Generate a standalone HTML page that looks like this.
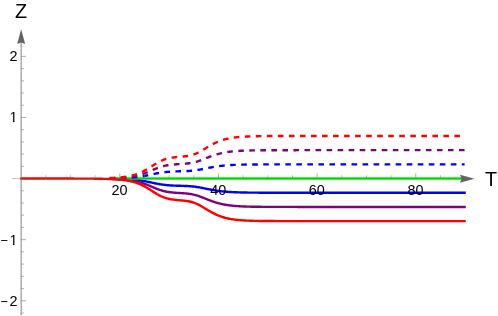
<!DOCTYPE html>
<html><head><meta charset="utf-8"><title>Plot</title><style>html,body{margin:0;padding:0;background:#fff}body{width:498px;height:316px;overflow:hidden}</style></head><body><svg width="498" height="316" viewBox="0 0 498 316" style="display:block;will-change:transform">
<rect width="100%" height="100%" fill="#fff"/>
<line x1="12" y1="178.55" x2="461" y2="178.55" stroke="#888" stroke-opacity="0.62" stroke-width="0.85"/>
<clipPath id="c"><rect x="109.5" y="0" width="400" height="316"/></clipPath>
<g clip-path="url(#c)">
<path d="M20.16 178.55 L21.15 178.55 L22.14 178.55 L23.13 178.55 L24.12 178.55 L25.11 178.55 L26.10 178.55 L27.09 178.55 L28.09 178.55 L29.08 178.55 L30.07 178.55 L31.06 178.55 L32.05 178.55 L33.04 178.55 L34.03 178.55 L35.02 178.55 L36.01 178.55 L37.00 178.55 L37.99 178.55 L38.98 178.55 L39.97 178.55 L40.96 178.55 L41.95 178.55 L42.94 178.55 L43.93 178.55 L44.92 178.55 L45.91 178.55 L46.90 178.55 L47.89 178.55 L48.88 178.55 L49.87 178.55 L50.86 178.55 L51.85 178.55 L52.84 178.55 L53.83 178.55 L54.82 178.55 L55.81 178.55 L56.80 178.55 L57.79 178.55 L58.78 178.55 L59.77 178.55 L60.76 178.55 L61.75 178.55 L62.74 178.55 L63.73 178.55 L64.72 178.55 L65.71 178.55 L66.70 178.55 L67.69 178.55 L68.68 178.56 L69.67 178.56 L70.66 178.56 L71.65 178.56 L72.64 178.56 L73.64 178.56 L74.63 178.56 L75.62 178.56 L76.61 178.56 L77.60 178.56 L78.59 178.56 L79.58 178.56 L80.57 178.56 L81.56 178.57 L82.55 178.57 L83.54 178.57 L84.53 178.57 L85.52 178.57 L86.51 178.57 L87.50 178.57 L88.49 178.58 L89.48 178.58 L90.47 178.58 L91.46 178.58 L92.45 178.59 L93.44 178.59 L94.43 178.59 L95.42 178.60 L96.41 178.60 L97.40 178.61 L98.39 178.61 L99.38 178.62 L100.37 178.62 L101.36 178.63 L102.35 178.64 L103.34 178.64 L104.33 178.65 L105.32 178.66 L106.31 178.67 L107.30 178.68 L108.29 178.69 L109.28 178.70 L110.27 178.72 L111.26 178.73 L112.25 178.75 L113.24 178.76 L114.23 178.78 L115.22 178.80 L116.21 178.82 L117.20 178.85 L118.19 178.87 L119.19 178.90 L120.18 178.93 L121.17 178.96 L122.16 179.00 L123.15 179.04 L124.14 179.08 L125.13 179.12 L126.12 179.17 L127.11 179.23 L128.10 179.28 L129.09 179.35 L130.08 179.41 L131.07 179.48 L132.06 179.56 L133.05 179.65 L134.04 179.74 L135.03 179.83 L136.02 179.94 L137.01 180.05 L138.00 180.17 L138.99 180.30 L139.98 180.43 L140.97 180.58 L141.96 180.73 L142.95 180.89 L143.94 181.06 L144.93 181.24 L145.92 181.43 L146.91 181.62 L147.90 181.82 L148.89 182.02 L149.88 182.23 L150.87 182.44 L151.86 182.65 L152.85 182.86 L153.84 183.08 L154.83 183.28 L155.82 183.49 L156.81 183.68 L157.80 183.87 L158.79 184.05 L159.78 184.22 L160.77 184.38 L161.76 184.53 L162.75 184.67 L163.74 184.80 L164.74 184.92 L165.73 185.03 L166.72 185.13 L167.71 185.22 L168.70 185.30 L169.69 185.37 L170.68 185.43 L171.67 185.49 L172.66 185.54 L173.65 185.59 L174.64 185.63 L175.63 185.67 L176.62 185.70 L177.61 185.73 L178.60 185.76 L179.59 185.79 L180.58 185.82 L181.57 185.84 L182.56 185.87 L183.55 185.91 L184.54 185.94 L185.53 185.98 L186.52 186.02 L187.51 186.07 L188.50 186.13 L189.49 186.20 L190.48 186.27 L191.47 186.36 L192.46 186.45 L193.45 186.56 L194.44 186.68 L195.43 186.81 L196.42 186.95 L197.41 187.10 L198.40 187.26 L199.39 187.43 L200.38 187.60 L201.37 187.79 L202.36 187.98 L203.35 188.17 L204.34 188.37 L205.33 188.57 L206.32 188.77 L207.31 188.97 L208.30 189.17 L209.29 189.36 L210.29 189.55 L211.28 189.74 L212.27 189.92 L213.26 190.09 L214.25 190.26 L215.24 190.42 L216.23 190.57 L217.22 190.72 L218.21 190.86 L219.20 190.99 L220.19 191.11 L221.18 191.23 L222.17 191.34 L223.16 191.44 L224.15 191.54 L225.14 191.63 L226.13 191.71 L227.12 191.79 L228.11 191.87 L229.10 191.93 L230.09 192.00 L231.08 192.06 L232.07 192.11 L233.06 192.16 L234.05 192.21 L235.04 192.25 L236.03 192.29 L237.02 192.32 L238.01 192.36 L239.00 192.39 L239.99 192.42 L240.98 192.44 L241.97 192.47 L242.96 192.49 L243.95 192.51 L244.94 192.53 L245.93 192.55 L246.92 192.56 L247.91 192.58 L248.90 192.59 L249.89 192.60 L250.88 192.61 L251.87 192.62 L252.86 192.63 L253.85 192.64 L254.84 192.65 L255.84 192.66 L256.83 192.67 L257.82 192.67 L258.81 192.68 L259.80 192.68 L260.79 192.69 L261.78 192.69 L262.77 192.70 L263.76 192.70 L264.75 192.70 L265.74 192.71 L266.73 192.71 L267.72 192.71 L268.71 192.71 L269.70 192.72 L270.69 192.72 L271.68 192.72 L272.67 192.72 L273.66 192.72 L274.65 192.72 L275.64 192.73 L276.63 192.73 L277.62 192.73 L278.61 192.73 L279.60 192.73 L280.59 192.73 L281.58 192.73 L282.57 192.73 L283.56 192.73 L284.55 192.73 L285.54 192.73 L286.53 192.73 L287.52 192.73 L288.51 192.74 L289.50 192.74 L290.49 192.74 L291.48 192.74 L292.47 192.74 L293.46 192.74 L294.45 192.74 L295.44 192.74 L296.43 192.74 L297.42 192.74 L298.41 192.74 L299.40 192.74 L300.39 192.74 L301.39 192.74 L302.38 192.74 L303.37 192.74 L304.36 192.74 L305.35 192.74 L306.34 192.74 L307.33 192.74 L308.32 192.74 L309.31 192.74 L310.30 192.74 L311.29 192.74 L312.28 192.74 L313.27 192.74 L314.26 192.74 L315.25 192.74 L316.24 192.74 L317.23 192.74 L318.22 192.74 L319.21 192.74 L320.20 192.74 L321.19 192.74 L322.18 192.74 L323.17 192.74 L324.16 192.74 L325.15 192.74 L326.14 192.74 L327.13 192.74 L328.12 192.74 L329.11 192.74 L330.10 192.74 L331.09 192.74 L332.08 192.74 L333.07 192.74 L334.06 192.74 L335.05 192.74 L336.04 192.74 L337.03 192.74 L338.02 192.74 L339.01 192.74 L340.00 192.74 L340.99 192.74 L341.98 192.74 L342.97 192.74 L343.96 192.74 L344.95 192.74 L345.94 192.74 L346.94 192.74 L347.93 192.74 L348.92 192.74 L349.91 192.74 L350.90 192.74 L351.89 192.74 L352.88 192.74 L353.87 192.74 L354.86 192.74 L355.85 192.74 L356.84 192.74 L357.83 192.74 L358.82 192.74 L359.81 192.74 L360.80 192.74 L361.79 192.74 L362.78 192.74 L363.77 192.74 L364.76 192.74 L365.75 192.74 L366.74 192.74 L367.73 192.74 L368.72 192.74 L369.71 192.74 L370.70 192.74 L371.69 192.74 L372.68 192.74 L373.67 192.74 L374.66 192.74 L375.65 192.74 L376.64 192.74 L377.63 192.74 L378.62 192.74 L379.61 192.74 L380.60 192.74 L381.59 192.74 L382.58 192.74 L383.57 192.74 L384.56 192.74 L385.55 192.74 L386.54 192.74 L387.53 192.74 L388.52 192.74 L389.51 192.74 L390.50 192.74 L391.49 192.74 L392.49 192.74 L393.48 192.74 L394.47 192.74 L395.46 192.74 L396.45 192.74 L397.44 192.74 L398.43 192.74 L399.42 192.74 L400.41 192.74 L401.40 192.74 L402.39 192.74 L403.38 192.74 L404.37 192.74 L405.36 192.74 L406.35 192.74 L407.34 192.74 L408.33 192.74 L409.32 192.74 L410.31 192.74 L411.30 192.74 L412.29 192.74 L413.28 192.74 L414.27 192.74 L415.26 192.74 L416.25 192.74 L417.24 192.74 L418.23 192.74 L419.22 192.74 L420.21 192.74 L421.20 192.74 L422.19 192.74 L423.18 192.74 L424.17 192.74 L425.16 192.74 L426.15 192.74 L427.14 192.74 L428.13 192.74 L429.12 192.74 L430.11 192.74 L431.10 192.74 L432.09 192.74 L433.08 192.74 L434.07 192.74 L435.06 192.74 L436.05 192.74 L437.04 192.74 L438.04 192.74 L439.03 192.74 L440.02 192.74 L441.01 192.74 L442.00 192.74 L442.99 192.74 L443.98 192.74 L444.97 192.74 L445.96 192.74 L446.95 192.74 L447.94 192.74 L448.93 192.74 L449.92 192.74 L450.91 192.74 L451.90 192.74 L452.89 192.74 L453.88 192.74 L454.87 192.74 L455.86 192.74 L456.85 192.74 L457.84 192.74 L458.83 192.74 L459.82 192.74 L460.81 192.74 L461.80 192.74 L462.79 192.74 L463.78 192.74 L464.77 192.74 L465.76 192.74" fill="none" stroke="#0000ff" stroke-width="2.40" stroke-linejoin="round"/>
<path d="M20.16 178.55 L21.15 178.55 L22.14 178.55 L23.13 178.55 L24.12 178.55 L25.11 178.55 L26.10 178.55 L27.09 178.55 L28.09 178.55 L29.08 178.55 L30.07 178.55 L31.06 178.55 L32.05 178.55 L33.04 178.55 L34.03 178.55 L35.02 178.55 L36.01 178.55 L37.00 178.55 L37.99 178.55 L38.98 178.55 L39.97 178.55 L40.96 178.55 L41.95 178.55 L42.94 178.55 L43.93 178.55 L44.92 178.55 L45.91 178.55 L46.90 178.55 L47.89 178.55 L48.88 178.55 L49.87 178.55 L50.86 178.55 L51.85 178.55 L52.84 178.55 L53.83 178.55 L54.82 178.55 L55.81 178.55 L56.80 178.55 L57.79 178.55 L58.78 178.55 L59.77 178.55 L60.76 178.56 L61.75 178.56 L62.74 178.56 L63.73 178.56 L64.72 178.56 L65.71 178.56 L66.70 178.56 L67.69 178.56 L68.68 178.56 L69.67 178.56 L70.66 178.56 L71.65 178.56 L72.64 178.56 L73.64 178.57 L74.63 178.57 L75.62 178.57 L76.61 178.57 L77.60 178.57 L78.59 178.57 L79.58 178.58 L80.57 178.58 L81.56 178.58 L82.55 178.58 L83.54 178.59 L84.53 178.59 L85.52 178.59 L86.51 178.60 L87.50 178.60 L88.49 178.60 L89.48 178.61 L90.47 178.61 L91.46 178.62 L92.45 178.63 L93.44 178.63 L94.43 178.64 L95.42 178.65 L96.41 178.66 L97.40 178.66 L98.39 178.67 L99.38 178.68 L100.37 178.70 L101.36 178.71 L102.35 178.72 L103.34 178.74 L104.33 178.75 L105.32 178.77 L106.31 178.79 L107.30 178.81 L108.29 178.83 L109.28 178.86 L110.27 178.88 L111.26 178.91 L112.25 178.94 L113.24 178.98 L114.23 179.02 L115.22 179.06 L116.21 179.10 L117.20 179.15 L118.19 179.20 L119.19 179.25 L120.18 179.31 L121.17 179.38 L122.16 179.45 L123.15 179.53 L124.14 179.61 L125.13 179.70 L126.12 179.80 L127.11 179.90 L128.10 180.02 L129.09 180.14 L130.08 180.28 L131.07 180.42 L132.06 180.58 L133.05 180.74 L134.04 180.92 L135.03 181.12 L136.02 181.33 L137.01 181.55 L138.00 181.79 L138.99 182.05 L139.98 182.32 L140.97 182.61 L141.96 182.91 L142.95 183.24 L143.94 183.58 L144.93 183.93 L145.92 184.30 L146.91 184.69 L147.90 185.08 L148.89 185.49 L149.88 185.91 L150.87 186.33 L151.86 186.75 L152.85 187.18 L153.84 187.60 L154.83 188.02 L155.82 188.42 L156.81 188.81 L157.80 189.19 L158.79 189.55 L159.78 189.90 L160.77 190.22 L161.76 190.52 L162.75 190.80 L163.74 191.06 L164.74 191.29 L165.73 191.51 L166.72 191.71 L167.71 191.88 L168.70 192.04 L169.69 192.19 L170.68 192.31 L171.67 192.43 L172.66 192.53 L173.65 192.62 L174.64 192.71 L175.63 192.78 L176.62 192.85 L177.61 192.91 L178.60 192.97 L179.59 193.03 L180.58 193.08 L181.57 193.14 L182.56 193.20 L183.55 193.26 L184.54 193.33 L185.53 193.41 L186.52 193.50 L187.51 193.60 L188.50 193.71 L189.49 193.84 L190.48 194.00 L191.47 194.16 L192.46 194.36 L193.45 194.57 L194.44 194.80 L195.43 195.06 L196.42 195.34 L197.41 195.64 L198.40 195.96 L199.39 196.30 L200.38 196.66 L201.37 197.03 L202.36 197.41 L203.35 197.80 L204.34 198.19 L205.33 198.59 L206.32 198.99 L207.31 199.39 L208.30 199.79 L209.29 200.17 L210.29 200.56 L211.28 200.93 L212.27 201.29 L213.26 201.64 L214.25 201.97 L215.24 202.29 L216.23 202.60 L217.22 202.89 L218.21 203.17 L219.20 203.43 L220.19 203.68 L221.18 203.91 L222.17 204.13 L223.16 204.34 L224.15 204.53 L225.14 204.71 L226.13 204.88 L227.12 205.04 L228.11 205.18 L229.10 205.32 L230.09 205.44 L231.08 205.56 L232.07 205.67 L233.06 205.77 L234.05 205.86 L235.04 205.95 L236.03 206.03 L237.02 206.10 L238.01 206.17 L239.00 206.23 L239.99 206.29 L240.98 206.34 L241.97 206.39 L242.96 206.43 L243.95 206.47 L244.94 206.51 L245.93 206.54 L246.92 206.58 L247.91 206.60 L248.90 206.63 L249.89 206.66 L250.88 206.68 L251.87 206.70 L252.86 206.72 L253.85 206.74 L254.84 206.75 L255.84 206.77 L256.83 206.78 L257.82 206.79 L258.81 206.80 L259.80 206.81 L260.79 206.82 L261.78 206.83 L262.77 206.84 L263.76 206.85 L264.75 206.86 L265.74 206.86 L266.73 206.87 L267.72 206.87 L268.71 206.88 L269.70 206.88 L270.69 206.89 L271.68 206.89 L272.67 206.89 L273.66 206.90 L274.65 206.90 L275.64 206.90 L276.63 206.90 L277.62 206.91 L278.61 206.91 L279.60 206.91 L280.59 206.91 L281.58 206.91 L282.57 206.91 L283.56 206.92 L284.55 206.92 L285.54 206.92 L286.53 206.92 L287.52 206.92 L288.51 206.92 L289.50 206.92 L290.49 206.92 L291.48 206.92 L292.47 206.92 L293.46 206.92 L294.45 206.92 L295.44 206.92 L296.43 206.92 L297.42 206.93 L298.41 206.93 L299.40 206.93 L300.39 206.93 L301.39 206.93 L302.38 206.93 L303.37 206.93 L304.36 206.93 L305.35 206.93 L306.34 206.93 L307.33 206.93 L308.32 206.93 L309.31 206.93 L310.30 206.93 L311.29 206.93 L312.28 206.93 L313.27 206.93 L314.26 206.93 L315.25 206.93 L316.24 206.93 L317.23 206.93 L318.22 206.93 L319.21 206.93 L320.20 206.93 L321.19 206.93 L322.18 206.93 L323.17 206.93 L324.16 206.93 L325.15 206.93 L326.14 206.93 L327.13 206.93 L328.12 206.93 L329.11 206.93 L330.10 206.93 L331.09 206.93 L332.08 206.93 L333.07 206.93 L334.06 206.93 L335.05 206.93 L336.04 206.93 L337.03 206.93 L338.02 206.93 L339.01 206.93 L340.00 206.93 L340.99 206.93 L341.98 206.93 L342.97 206.93 L343.96 206.93 L344.95 206.93 L345.94 206.93 L346.94 206.93 L347.93 206.93 L348.92 206.93 L349.91 206.93 L350.90 206.93 L351.89 206.93 L352.88 206.93 L353.87 206.93 L354.86 206.93 L355.85 206.93 L356.84 206.93 L357.83 206.93 L358.82 206.93 L359.81 206.93 L360.80 206.93 L361.79 206.93 L362.78 206.93 L363.77 206.93 L364.76 206.93 L365.75 206.93 L366.74 206.93 L367.73 206.93 L368.72 206.93 L369.71 206.93 L370.70 206.93 L371.69 206.93 L372.68 206.93 L373.67 206.93 L374.66 206.93 L375.65 206.93 L376.64 206.93 L377.63 206.93 L378.62 206.93 L379.61 206.93 L380.60 206.93 L381.59 206.93 L382.58 206.93 L383.57 206.93 L384.56 206.93 L385.55 206.93 L386.54 206.93 L387.53 206.93 L388.52 206.93 L389.51 206.93 L390.50 206.93 L391.49 206.93 L392.49 206.93 L393.48 206.93 L394.47 206.93 L395.46 206.93 L396.45 206.93 L397.44 206.93 L398.43 206.93 L399.42 206.93 L400.41 206.93 L401.40 206.93 L402.39 206.93 L403.38 206.93 L404.37 206.93 L405.36 206.93 L406.35 206.93 L407.34 206.93 L408.33 206.93 L409.32 206.93 L410.31 206.93 L411.30 206.93 L412.29 206.93 L413.28 206.93 L414.27 206.93 L415.26 206.93 L416.25 206.93 L417.24 206.93 L418.23 206.93 L419.22 206.93 L420.21 206.93 L421.20 206.93 L422.19 206.93 L423.18 206.93 L424.17 206.93 L425.16 206.93 L426.15 206.93 L427.14 206.93 L428.13 206.93 L429.12 206.93 L430.11 206.93 L431.10 206.93 L432.09 206.93 L433.08 206.93 L434.07 206.93 L435.06 206.93 L436.05 206.93 L437.04 206.93 L438.04 206.93 L439.03 206.93 L440.02 206.93 L441.01 206.93 L442.00 206.93 L442.99 206.93 L443.98 206.93 L444.97 206.93 L445.96 206.93 L446.95 206.93 L447.94 206.93 L448.93 206.93 L449.92 206.93 L450.91 206.93 L451.90 206.93 L452.89 206.93 L453.88 206.93 L454.87 206.93 L455.86 206.93 L456.85 206.93 L457.84 206.93 L458.83 206.93 L459.82 206.93 L460.81 206.93 L461.80 206.93 L462.79 206.93 L463.78 206.93 L464.77 206.93 L465.76 206.93" fill="none" stroke="#800080" stroke-width="2.40" stroke-linejoin="round"/>
<path d="M20.16 178.55 L21.15 178.55 L22.14 178.55 L23.13 178.55 L24.12 178.55 L25.11 178.55 L26.10 178.55 L27.09 178.55 L28.09 178.55 L29.08 178.55 L30.07 178.55 L31.06 178.55 L32.05 178.55 L33.04 178.55 L34.03 178.55 L35.02 178.55 L36.01 178.55 L37.00 178.55 L37.99 178.55 L38.98 178.55 L39.97 178.55 L40.96 178.55 L41.95 178.55 L42.94 178.55 L43.93 178.55 L44.92 178.55 L45.91 178.55 L46.90 178.55 L47.89 178.55 L48.88 178.55 L49.87 178.55 L50.86 178.55 L51.85 178.55 L52.84 178.55 L53.83 178.55 L54.82 178.55 L55.81 178.55 L56.80 178.55 L57.79 178.55 L58.78 178.55 L59.77 178.55 L60.76 178.55 L61.75 178.55 L62.74 178.55 L63.73 178.55 L64.72 178.55 L65.71 178.55 L66.70 178.55 L67.69 178.55 L68.68 178.55 L69.67 178.55 L70.66 178.55 L71.65 178.55 L72.64 178.55 L73.64 178.55 L74.63 178.55 L75.62 178.55 L76.61 178.55 L77.60 178.55 L78.59 178.55 L79.58 178.55 L80.57 178.55 L81.56 178.55 L82.55 178.55 L83.54 178.55 L84.53 178.55 L85.52 178.55 L86.51 178.55 L87.50 178.55 L88.49 178.55 L89.48 178.55 L90.47 178.55 L91.46 178.55 L92.45 178.55 L93.44 178.55 L94.43 178.55 L95.42 178.55 L96.41 178.55 L97.40 178.55 L98.39 178.55 L99.38 178.55 L100.37 178.55 L101.36 178.55 L102.35 178.55 L103.34 178.55 L104.33 178.55 L105.32 178.55 L106.31 178.55 L107.30 178.55 L108.29 178.55 L109.28 178.55 L110.27 178.55 L111.26 178.55 L112.25 178.55 L113.24 178.55 L114.23 178.55 L115.22 178.55 L116.21 178.55 L117.20 178.55 L118.19 178.55 L119.19 178.55 L120.18 178.55 L121.17 178.55 L122.16 178.55 L123.15 178.55 L124.14 178.55 L125.13 178.55 L126.12 178.55 L127.11 178.55 L128.10 178.55 L129.09 178.55 L130.08 178.55 L131.07 178.55 L132.06 178.55 L133.05 178.55 L134.04 178.55 L135.03 178.55 L136.02 178.55 L137.01 178.55 L138.00 178.55 L138.99 178.55 L139.98 178.55 L140.97 178.55 L141.96 178.55 L142.95 178.55 L143.94 178.55 L144.93 178.55 L145.92 178.55 L146.91 178.55 L147.90 178.55 L148.89 178.55 L149.88 178.55 L150.87 178.55 L151.86 178.55 L152.85 178.55 L153.84 178.55 L154.83 178.55 L155.82 178.55 L156.81 178.55 L157.80 178.55 L158.79 178.55 L159.78 178.55 L160.77 178.55 L161.76 178.55 L162.75 178.55 L163.74 178.55 L164.74 178.55 L165.73 178.55 L166.72 178.55 L167.71 178.55 L168.70 178.55 L169.69 178.55 L170.68 178.55 L171.67 178.55 L172.66 178.55 L173.65 178.55 L174.64 178.55 L175.63 178.55 L176.62 178.55 L177.61 178.55 L178.60 178.55 L179.59 178.55 L180.58 178.55 L181.57 178.55 L182.56 178.55 L183.55 178.55 L184.54 178.55 L185.53 178.55 L186.52 178.55 L187.51 178.55 L188.50 178.55 L189.49 178.55 L190.48 178.55 L191.47 178.55 L192.46 178.55 L193.45 178.55 L194.44 178.55 L195.43 178.55 L196.42 178.55 L197.41 178.55 L198.40 178.55 L199.39 178.55 L200.38 178.55 L201.37 178.55 L202.36 178.55 L203.35 178.55 L204.34 178.55 L205.33 178.55 L206.32 178.55 L207.31 178.55 L208.30 178.55 L209.29 178.55 L210.29 178.55 L211.28 178.55 L212.27 178.55 L213.26 178.55 L214.25 178.55 L215.24 178.55 L216.23 178.55 L217.22 178.55 L218.21 178.55 L219.20 178.55 L220.19 178.55 L221.18 178.55 L222.17 178.55 L223.16 178.55 L224.15 178.55 L225.14 178.55 L226.13 178.55 L227.12 178.55 L228.11 178.55 L229.10 178.55 L230.09 178.55 L231.08 178.55 L232.07 178.55 L233.06 178.55 L234.05 178.55 L235.04 178.55 L236.03 178.55 L237.02 178.55 L238.01 178.55 L239.00 178.55 L239.99 178.55 L240.98 178.55 L241.97 178.55 L242.96 178.55 L243.95 178.55 L244.94 178.55 L245.93 178.55 L246.92 178.55 L247.91 178.55 L248.90 178.55 L249.89 178.55 L250.88 178.55 L251.87 178.55 L252.86 178.55 L253.85 178.55 L254.84 178.55 L255.84 178.55 L256.83 178.55 L257.82 178.55 L258.81 178.55 L259.80 178.55 L260.79 178.55 L261.78 178.55 L262.77 178.55 L263.76 178.55 L264.75 178.55 L265.74 178.55 L266.73 178.55 L267.72 178.55 L268.71 178.55 L269.70 178.55 L270.69 178.55 L271.68 178.55 L272.67 178.55 L273.66 178.55 L274.65 178.55 L275.64 178.55 L276.63 178.55 L277.62 178.55 L278.61 178.55 L279.60 178.55 L280.59 178.55 L281.58 178.55 L282.57 178.55 L283.56 178.55 L284.55 178.55 L285.54 178.55 L286.53 178.55 L287.52 178.55 L288.51 178.55 L289.50 178.55 L290.49 178.55 L291.48 178.55 L292.47 178.55 L293.46 178.55 L294.45 178.55 L295.44 178.55 L296.43 178.55 L297.42 178.55 L298.41 178.55 L299.40 178.55 L300.39 178.55 L301.39 178.55 L302.38 178.55 L303.37 178.55 L304.36 178.55 L305.35 178.55 L306.34 178.55 L307.33 178.55 L308.32 178.55 L309.31 178.55 L310.30 178.55 L311.29 178.55 L312.28 178.55 L313.27 178.55 L314.26 178.55 L315.25 178.55 L316.24 178.55 L317.23 178.55 L318.22 178.55 L319.21 178.55 L320.20 178.55 L321.19 178.55 L322.18 178.55 L323.17 178.55 L324.16 178.55 L325.15 178.55 L326.14 178.55 L327.13 178.55 L328.12 178.55 L329.11 178.55 L330.10 178.55 L331.09 178.55 L332.08 178.55 L333.07 178.55 L334.06 178.55 L335.05 178.55 L336.04 178.55 L337.03 178.55 L338.02 178.55 L339.01 178.55 L340.00 178.55 L340.99 178.55 L341.98 178.55 L342.97 178.55 L343.96 178.55 L344.95 178.55 L345.94 178.55 L346.94 178.55 L347.93 178.55 L348.92 178.55 L349.91 178.55 L350.90 178.55 L351.89 178.55 L352.88 178.55 L353.87 178.55 L354.86 178.55 L355.85 178.55 L356.84 178.55 L357.83 178.55 L358.82 178.55 L359.81 178.55 L360.80 178.55 L361.79 178.55 L362.78 178.55 L363.77 178.55 L364.76 178.55 L365.75 178.55 L366.74 178.55 L367.73 178.55 L368.72 178.55 L369.71 178.55 L370.70 178.55 L371.69 178.55 L372.68 178.55 L373.67 178.55 L374.66 178.55 L375.65 178.55 L376.64 178.55 L377.63 178.55 L378.62 178.55 L379.61 178.55 L380.60 178.55 L381.59 178.55 L382.58 178.55 L383.57 178.55 L384.56 178.55 L385.55 178.55 L386.54 178.55 L387.53 178.55 L388.52 178.55 L389.51 178.55 L390.50 178.55 L391.49 178.55 L392.49 178.55 L393.48 178.55 L394.47 178.55 L395.46 178.55 L396.45 178.55 L397.44 178.55 L398.43 178.55 L399.42 178.55 L400.41 178.55 L401.40 178.55 L402.39 178.55 L403.38 178.55 L404.37 178.55 L405.36 178.55 L406.35 178.55 L407.34 178.55 L408.33 178.55 L409.32 178.55 L410.31 178.55 L411.30 178.55 L412.29 178.55 L413.28 178.55 L414.27 178.55 L415.26 178.55 L416.25 178.55 L417.24 178.55 L418.23 178.55 L419.22 178.55 L420.21 178.55 L421.20 178.55 L422.19 178.55 L423.18 178.55 L424.17 178.55 L425.16 178.55 L426.15 178.55 L427.14 178.55 L428.13 178.55 L429.12 178.55 L430.11 178.55 L431.10 178.55 L432.09 178.55 L433.08 178.55 L434.07 178.55 L435.06 178.55 L436.05 178.55 L437.04 178.55 L438.04 178.55 L439.03 178.55 L440.02 178.55 L441.01 178.55 L442.00 178.55 L442.99 178.55 L443.98 178.55 L444.97 178.55 L445.96 178.55 L446.95 178.55 L447.94 178.55 L448.93 178.55 L449.92 178.55 L450.91 178.55 L451.90 178.55 L452.89 178.55 L453.88 178.55 L454.87 178.55 L455.86 178.55 L456.85 178.55 L457.84 178.55 L458.83 178.55 L459.82 178.55 L460.81 178.55 L461.80 178.55 L462.79 178.55 L463.78 178.55 L464.77 178.55 L465.76 178.55" fill="none" stroke="#00f000" stroke-width="2.40" stroke-linejoin="round"/>
<path d="M20.16 178.55 L21.15 178.55 L22.14 178.55 L23.13 178.55 L24.11 178.55 L25.10 178.55 L26.09 178.55 L27.08 178.55 L28.06 178.55 L29.05 178.55 L30.04 178.55 L31.03 178.55 L32.02 178.55 L33.00 178.55 L33.99 178.55 L34.98 178.55 L35.97 178.55 L36.95 178.55 L37.94 178.55 L38.93 178.55 L39.92 178.55 L40.91 178.55 L41.89 178.55 L42.88 178.55 L43.87 178.55 L44.86 178.55 L45.84 178.55 L46.83 178.55 L47.82 178.55 L48.81 178.55 L49.79 178.55 L50.78 178.55 L51.77 178.55 L52.76 178.55 L53.75 178.55 L54.73 178.55 L55.72 178.55 L56.71 178.55 L57.70 178.55 L58.68 178.55 L59.67 178.55 L60.66 178.55 L61.65 178.55 L62.63 178.55 L63.62 178.55 L64.61 178.55 L65.60 178.55 L66.59 178.55 L67.57 178.55 L68.56 178.54 L69.55 178.54 L70.54 178.54 L71.52 178.54 L72.51 178.54 L73.50 178.54 L74.49 178.54 L75.47 178.54 L76.46 178.54 L77.45 178.54 L78.44 178.54 L79.43 178.54 L80.41 178.54 L81.40 178.54 L82.39 178.53 L83.38 178.53 L84.36 178.53 L85.35 178.53 L86.34 178.53 L87.33 178.53 L88.31 178.52 L89.30 178.52 L90.29 178.52 L91.28 178.52 L92.27 178.51 L93.25 178.51 L94.24 178.51 L95.23 178.50 L96.22 178.50 L97.20 178.49 L98.19 178.49 L99.18 178.48 L100.17 178.48 L101.15 178.47 L102.14 178.47 L103.13 178.46 L104.12 178.45 L105.11 178.44 L106.09 178.43 L107.08 178.42 L108.07 178.41 L109.06 178.40 L110.04 178.39 L111.03 178.37 L112.02 178.36 L113.01 178.34 L113.99 178.32 L114.98 178.30 L115.97 178.28 L116.96 178.26 L117.95 178.23 L118.93 178.21 L119.92 178.18 L120.91 178.14 L121.90 178.11 L122.88 178.07 L123.87 178.03 L124.86 177.99 L125.85 177.94 L126.83 177.89 L127.82 177.83 L128.81 177.77 L129.80 177.71 L130.79 177.64 L131.77 177.56 L132.76 177.48 L133.75 177.39 L134.74 177.30 L135.72 177.19 L136.71 177.08 L137.70 176.97 L138.69 176.84 L139.67 176.71 L140.66 176.57 L141.65 176.42 L142.64 176.26 L143.63 176.09 L144.61 175.92 L145.60 175.73 L146.59 175.55 L147.58 175.35 L148.56 175.15 L149.55 174.94 L150.54 174.73 L151.53 174.52 L152.51 174.31 L153.50 174.10 L154.49 173.89 L155.48 173.68 L156.47 173.49 L157.45 173.29 L158.44 173.11 L159.43 172.94 L160.42 172.77 L161.40 172.62 L162.39 172.48 L163.38 172.34 L164.37 172.22 L165.35 172.11 L166.34 172.01 L167.33 171.92 L168.32 171.83 L169.31 171.76 L170.29 171.69 L171.28 171.63 L172.27 171.58 L173.26 171.53 L174.24 171.49 L175.23 171.45 L176.22 171.41 L177.21 171.38 L178.19 171.35 L179.18 171.32 L180.17 171.30 L181.16 171.27 L182.15 171.24 L183.13 171.21 L184.12 171.18 L185.11 171.14 L186.10 171.10 L187.08 171.05 L188.07 170.99 L189.06 170.93 L190.05 170.86 L191.03 170.78 L192.02 170.69 L193.01 170.59 L194.00 170.48 L194.99 170.35 L195.97 170.22 L196.96 170.07 L197.95 169.92 L198.94 169.75 L199.92 169.58 L200.91 169.40 L201.90 169.21 L202.89 169.02 L203.87 168.82 L204.86 168.62 L205.85 168.43 L206.84 168.23 L207.83 168.03 L208.81 167.83 L209.80 167.64 L210.79 167.45 L211.78 167.27 L212.76 167.09 L213.75 166.92 L214.74 166.76 L215.73 166.60 L216.71 166.45 L217.70 166.31 L218.69 166.18 L219.68 166.05 L220.67 165.93 L221.65 165.82 L222.64 165.71 L223.63 165.61 L224.62 165.52 L225.60 165.43 L226.59 165.35 L227.58 165.27 L228.57 165.20 L229.55 165.14 L230.54 165.08 L231.53 165.02 L232.52 164.97 L233.51 164.92 L234.49 164.87 L235.48 164.83 L236.47 164.80 L237.46 164.76 L238.44 164.73 L239.43 164.70 L240.42 164.67 L241.41 164.65 L242.40 164.62 L243.38 164.60 L244.37 164.58 L245.36 164.56 L246.35 164.55 L247.33 164.53 L248.32 164.52 L249.31 164.50 L250.30 164.49 L251.28 164.48 L252.27 164.47 L253.26 164.46 L254.25 164.45 L255.24 164.45 L256.22 164.44 L257.21 164.43 L258.20 164.43 L259.19 164.42 L260.17 164.42 L261.16 164.41 L262.15 164.41 L263.14 164.40 L264.12 164.40 L265.11 164.40 L266.10 164.39 L267.09 164.39 L268.08 164.39 L269.06 164.39 L270.05 164.38 L271.04 164.38 L272.03 164.38 L273.01 164.38 L274.00 164.38 L274.99 164.38 L275.98 164.37 L276.96 164.37 L277.95 164.37 L278.94 164.37 L279.93 164.37 L280.92 164.37 L281.90 164.37 L282.89 164.37 L283.88 164.37 L284.87 164.37 L285.85 164.37 L286.84 164.37 L287.83 164.37 L288.82 164.36 L289.80 164.36 L290.79 164.36 L291.78 164.36 L292.77 164.36 L293.76 164.36 L294.74 164.36 L295.73 164.36 L296.72 164.36 L297.71 164.36 L298.69 164.36 L299.68 164.36 L300.67 164.36 L301.66 164.36 L302.64 164.36 L303.63 164.36 L304.62 164.36 L305.61 164.36 L306.60 164.36 L307.58 164.36 L308.57 164.36 L309.56 164.36 L310.55 164.36 L311.53 164.36 L312.52 164.36 L313.51 164.36 L314.50 164.36 L315.48 164.36 L316.47 164.36 L317.46 164.36 L318.45 164.36 L319.44 164.36 L320.42 164.36 L321.41 164.36 L322.40 164.36 L323.39 164.36 L324.37 164.36 L325.36 164.36 L326.35 164.36 L327.34 164.36 L328.32 164.36 L329.31 164.36 L330.30 164.36 L331.29 164.36 L332.28 164.36 L333.26 164.36 L334.25 164.36 L335.24 164.36 L336.23 164.36 L337.21 164.36 L338.20 164.36 L339.19 164.36 L340.18 164.36 L341.16 164.36 L342.15 164.36 L343.14 164.36 L344.13 164.36 L345.12 164.36 L346.10 164.36 L347.09 164.36 L348.08 164.36 L349.07 164.36 L350.05 164.36 L351.04 164.36 L352.03 164.36 L353.02 164.36 L354.00 164.36 L354.99 164.36 L355.98 164.36 L356.97 164.36 L357.96 164.36 L358.94 164.36 L359.93 164.36 L360.92 164.36 L361.91 164.36 L362.89 164.36 L363.88 164.36 L364.87 164.36 L365.86 164.36 L366.84 164.36 L367.83 164.36 L368.82 164.36 L369.81 164.36 L370.80 164.36 L371.78 164.36 L372.77 164.36 L373.76 164.36 L374.75 164.36 L375.73 164.36 L376.72 164.36 L377.71 164.36 L378.70 164.36 L379.68 164.36 L380.67 164.36 L381.66 164.36 L382.65 164.36 L383.64 164.36 L384.62 164.36 L385.61 164.36 L386.60 164.36 L387.59 164.36 L388.57 164.36 L389.56 164.36 L390.55 164.36 L391.54 164.36 L392.52 164.36 L393.51 164.36 L394.50 164.36 L395.49 164.36 L396.48 164.36 L397.46 164.36 L398.45 164.36 L399.44 164.36 L400.43 164.36 L401.41 164.36 L402.40 164.36 L403.39 164.36 L404.38 164.36 L405.36 164.36 L406.35 164.36 L407.34 164.36 L408.33 164.36 L409.32 164.36 L410.30 164.36 L411.29 164.36 L412.28 164.36 L413.27 164.36 L414.25 164.36 L415.24 164.36 L416.23 164.36 L417.22 164.36 L418.20 164.36 L419.19 164.36 L420.18 164.36 L421.17 164.36 L422.16 164.36 L423.14 164.36 L424.13 164.36 L425.12 164.36 L426.11 164.36 L427.09 164.36 L428.08 164.36 L429.07 164.36 L430.06 164.36 L431.05 164.36 L432.03 164.36 L433.02 164.36 L434.01 164.36 L435.00 164.36 L435.98 164.36 L436.97 164.36 L437.96 164.36 L438.95 164.36 L439.93 164.36 L440.92 164.36 L441.91 164.36 L442.90 164.36 L443.89 164.36 L444.87 164.36 L445.86 164.36 L446.85 164.36 L447.84 164.36 L448.82 164.36 L449.81 164.36 L450.80 164.36 L451.79 164.36 L452.77 164.36 L453.76 164.36 L454.75 164.36 L455.74 164.36 L456.73 164.36 L457.71 164.36 L458.70 164.36 L459.69 164.36 L460.68 164.36 L461.66 164.36 L462.65 164.36 L463.64 164.36 L464.63 164.36" fill="none" stroke="#0000ff" stroke-width="2.40" stroke-dasharray="5.6 5.435" stroke-dashoffset="-1.29"/>
<path d="M20.16 178.55 L21.15 178.55 L22.14 178.55 L23.13 178.55 L24.11 178.55 L25.10 178.55 L26.09 178.55 L27.08 178.55 L28.06 178.55 L29.05 178.55 L30.04 178.55 L31.03 178.55 L32.02 178.55 L33.00 178.55 L33.99 178.55 L34.98 178.55 L35.97 178.55 L36.95 178.55 L37.94 178.55 L38.93 178.55 L39.92 178.55 L40.91 178.55 L41.89 178.55 L42.88 178.55 L43.87 178.55 L44.86 178.55 L45.84 178.55 L46.83 178.55 L47.82 178.55 L48.81 178.55 L49.79 178.55 L50.78 178.55 L51.77 178.55 L52.76 178.55 L53.75 178.55 L54.73 178.55 L55.72 178.55 L56.71 178.55 L57.70 178.55 L58.68 178.55 L59.67 178.55 L60.66 178.54 L61.65 178.54 L62.63 178.54 L63.62 178.54 L64.61 178.54 L65.60 178.54 L66.59 178.54 L67.57 178.54 L68.56 178.54 L69.55 178.54 L70.54 178.54 L71.52 178.54 L72.51 178.54 L73.50 178.53 L74.49 178.53 L75.47 178.53 L76.46 178.53 L77.45 178.53 L78.44 178.53 L79.43 178.52 L80.41 178.52 L81.40 178.52 L82.39 178.52 L83.38 178.51 L84.36 178.51 L85.35 178.51 L86.34 178.50 L87.33 178.50 L88.31 178.50 L89.30 178.49 L90.29 178.49 L91.28 178.48 L92.27 178.48 L93.25 178.47 L94.24 178.46 L95.23 178.45 L96.22 178.45 L97.20 178.44 L98.19 178.43 L99.18 178.42 L100.17 178.41 L101.15 178.39 L102.14 178.38 L103.13 178.37 L104.12 178.35 L105.11 178.33 L106.09 178.31 L107.08 178.29 L108.07 178.27 L109.06 178.25 L110.04 178.22 L111.03 178.19 L112.02 178.16 L113.01 178.13 L113.99 178.09 L114.98 178.05 L115.97 178.01 L116.96 177.97 L117.95 177.92 L118.93 177.86 L119.92 177.80 L120.91 177.74 L121.90 177.67 L122.88 177.59 L123.87 177.51 L124.86 177.43 L125.85 177.33 L126.83 177.23 L127.82 177.11 L128.81 176.99 L129.80 176.86 L130.79 176.72 L131.77 176.57 L132.76 176.41 L133.75 176.23 L134.74 176.04 L135.72 175.84 L136.71 175.62 L137.70 175.38 L138.69 175.13 L139.67 174.87 L140.66 174.59 L141.65 174.29 L142.64 173.97 L143.63 173.63 L144.61 173.29 L145.60 172.92 L146.59 172.54 L147.58 172.15 L148.56 171.74 L149.55 171.33 L150.54 170.91 L151.53 170.49 L152.51 170.07 L153.50 169.64 L154.49 169.23 L155.48 168.82 L156.47 168.42 L157.45 168.04 L158.44 167.67 L159.43 167.32 L160.42 167.00 L161.40 166.69 L162.39 166.40 L163.38 166.14 L164.37 165.89 L165.35 165.67 L166.34 165.47 L167.33 165.28 L168.32 165.12 L169.31 164.97 L170.29 164.83 L171.28 164.71 L172.27 164.61 L173.26 164.51 L174.24 164.43 L175.23 164.35 L176.22 164.28 L177.21 164.21 L178.19 164.15 L179.18 164.10 L180.17 164.04 L181.16 163.99 L182.15 163.93 L183.13 163.87 L184.12 163.80 L185.11 163.73 L186.10 163.64 L187.08 163.55 L188.07 163.44 L189.06 163.31 L190.05 163.17 L191.03 163.01 L192.02 162.83 L193.01 162.63 L194.00 162.40 L194.99 162.16 L195.97 161.89 L196.96 161.60 L197.95 161.29 L198.94 160.96 L199.92 160.61 L200.91 160.25 L201.90 159.87 L202.89 159.49 L203.87 159.10 L204.86 158.70 L205.85 158.30 L206.84 157.90 L207.83 157.51 L208.81 157.11 L209.80 156.73 L210.79 156.35 L211.78 155.99 L212.76 155.64 L213.75 155.30 L214.74 154.97 L215.73 154.65 L216.71 154.36 L217.70 154.07 L218.69 153.80 L219.68 153.55 L220.67 153.31 L221.65 153.08 L222.64 152.87 L223.63 152.67 L224.62 152.48 L225.60 152.31 L226.59 152.15 L227.58 151.99 L228.57 151.85 L229.55 151.72 L230.54 151.60 L231.53 151.49 L232.52 151.38 L233.51 151.29 L234.49 151.20 L235.48 151.12 L236.47 151.04 L237.46 150.97 L238.44 150.91 L239.43 150.85 L240.42 150.79 L241.41 150.74 L242.40 150.69 L243.38 150.65 L244.37 150.61 L245.36 150.58 L246.35 150.54 L247.33 150.51 L248.32 150.48 L249.31 150.46 L250.30 150.43 L251.28 150.41 L252.27 150.39 L253.26 150.37 L254.25 150.36 L255.24 150.34 L256.22 150.33 L257.21 150.31 L258.20 150.30 L259.19 150.29 L260.17 150.28 L261.16 150.27 L262.15 150.26 L263.14 150.26 L264.12 150.25 L265.11 150.24 L266.10 150.24 L267.09 150.23 L268.08 150.23 L269.06 150.22 L270.05 150.22 L271.04 150.21 L272.03 150.21 L273.01 150.21 L274.00 150.20 L274.99 150.20 L275.98 150.20 L276.96 150.20 L277.95 150.19 L278.94 150.19 L279.93 150.19 L280.92 150.19 L281.90 150.19 L282.89 150.19 L283.88 150.18 L284.87 150.18 L285.85 150.18 L286.84 150.18 L287.83 150.18 L288.82 150.18 L289.80 150.18 L290.79 150.18 L291.78 150.18 L292.77 150.18 L293.76 150.18 L294.74 150.18 L295.73 150.18 L296.72 150.17 L297.71 150.17 L298.69 150.17 L299.68 150.17 L300.67 150.17 L301.66 150.17 L302.64 150.17 L303.63 150.17 L304.62 150.17 L305.61 150.17 L306.60 150.17 L307.58 150.17 L308.57 150.17 L309.56 150.17 L310.55 150.17 L311.53 150.17 L312.52 150.17 L313.51 150.17 L314.50 150.17 L315.48 150.17 L316.47 150.17 L317.46 150.17 L318.45 150.17 L319.44 150.17 L320.42 150.17 L321.41 150.17 L322.40 150.17 L323.39 150.17 L324.37 150.17 L325.36 150.17 L326.35 150.17 L327.34 150.17 L328.32 150.17 L329.31 150.17 L330.30 150.17 L331.29 150.17 L332.28 150.17 L333.26 150.17 L334.25 150.17 L335.24 150.17 L336.23 150.17 L337.21 150.17 L338.20 150.17 L339.19 150.17 L340.18 150.17 L341.16 150.17 L342.15 150.17 L343.14 150.17 L344.13 150.17 L345.12 150.17 L346.10 150.17 L347.09 150.17 L348.08 150.17 L349.07 150.17 L350.05 150.17 L351.04 150.17 L352.03 150.17 L353.02 150.17 L354.00 150.17 L354.99 150.17 L355.98 150.17 L356.97 150.17 L357.96 150.17 L358.94 150.17 L359.93 150.17 L360.92 150.17 L361.91 150.17 L362.89 150.17 L363.88 150.17 L364.87 150.17 L365.86 150.17 L366.84 150.17 L367.83 150.17 L368.82 150.17 L369.81 150.17 L370.80 150.17 L371.78 150.17 L372.77 150.17 L373.76 150.17 L374.75 150.17 L375.73 150.17 L376.72 150.17 L377.71 150.17 L378.70 150.17 L379.68 150.17 L380.67 150.17 L381.66 150.17 L382.65 150.17 L383.64 150.17 L384.62 150.17 L385.61 150.17 L386.60 150.17 L387.59 150.17 L388.57 150.17 L389.56 150.17 L390.55 150.17 L391.54 150.17 L392.52 150.17 L393.51 150.17 L394.50 150.17 L395.49 150.17 L396.48 150.17 L397.46 150.17 L398.45 150.17 L399.44 150.17 L400.43 150.17 L401.41 150.17 L402.40 150.17 L403.39 150.17 L404.38 150.17 L405.36 150.17 L406.35 150.17 L407.34 150.17 L408.33 150.17 L409.32 150.17 L410.30 150.17 L411.29 150.17 L412.28 150.17 L413.27 150.17 L414.25 150.17 L415.24 150.17 L416.23 150.17 L417.22 150.17 L418.20 150.17 L419.19 150.17 L420.18 150.17 L421.17 150.17 L422.16 150.17 L423.14 150.17 L424.13 150.17 L425.12 150.17 L426.11 150.17 L427.09 150.17 L428.08 150.17 L429.07 150.17 L430.06 150.17 L431.05 150.17 L432.03 150.17 L433.02 150.17 L434.01 150.17 L435.00 150.17 L435.98 150.17 L436.97 150.17 L437.96 150.17 L438.95 150.17 L439.93 150.17 L440.92 150.17 L441.91 150.17 L442.90 150.17 L443.89 150.17 L444.87 150.17 L445.86 150.17 L446.85 150.17 L447.84 150.17 L448.82 150.17 L449.81 150.17 L450.80 150.17 L451.79 150.17 L452.77 150.17 L453.76 150.17 L454.75 150.17 L455.74 150.17 L456.73 150.17 L457.71 150.17 L458.70 150.17 L459.69 150.17 L460.68 150.17 L461.66 150.17 L462.65 150.17 L463.64 150.17 L464.63 150.17" fill="none" stroke="#800080" stroke-width="2.40" stroke-dasharray="5.6 5.435" stroke-dashoffset="-1.29"/>
<path d="M20.16 178.55 L21.15 178.55 L22.14 178.55 L23.13 178.55 L24.11 178.55 L25.10 178.55 L26.09 178.55 L27.08 178.55 L28.06 178.55 L29.05 178.55 L30.04 178.55 L31.03 178.55 L32.02 178.55 L33.00 178.55 L33.99 178.55 L34.98 178.55 L35.97 178.55 L36.95 178.55 L37.94 178.55 L38.93 178.55 L39.92 178.55 L40.91 178.55 L41.89 178.55 L42.88 178.55 L43.87 178.55 L44.86 178.55 L45.84 178.55 L46.83 178.55 L47.82 178.55 L48.81 178.55 L49.79 178.55 L50.78 178.55 L51.77 178.55 L52.76 178.55 L53.75 178.55 L54.73 178.55 L55.72 178.54 L56.71 178.54 L57.70 178.54 L58.68 178.54 L59.67 178.54 L60.66 178.54 L61.65 178.54 L62.63 178.54 L63.62 178.54 L64.61 178.54 L65.60 178.54 L66.59 178.54 L67.57 178.54 L68.56 178.53 L69.55 178.53 L70.54 178.53 L71.52 178.53 L72.51 178.53 L73.50 178.53 L74.49 178.52 L75.47 178.52 L76.46 178.52 L77.45 178.52 L78.44 178.51 L79.43 178.51 L80.41 178.51 L81.40 178.51 L82.39 178.50 L83.38 178.50 L84.36 178.49 L85.35 178.49 L86.34 178.48 L87.33 178.48 L88.31 178.47 L89.30 178.46 L90.29 178.46 L91.28 178.45 L92.27 178.44 L93.25 178.43 L94.24 178.42 L95.23 178.41 L96.22 178.39 L97.20 178.38 L98.19 178.37 L99.18 178.35 L100.17 178.33 L101.15 178.32 L102.14 178.30 L103.13 178.27 L104.12 178.25 L105.11 178.22 L106.09 178.20 L107.08 178.17 L108.07 178.13 L109.06 178.10 L110.04 178.06 L111.03 178.02 L112.02 177.97 L113.01 177.92 L113.99 177.87 L114.98 177.81 L115.97 177.74 L116.96 177.67 L117.95 177.60 L118.93 177.52 L119.92 177.43 L120.91 177.33 L121.90 177.23 L122.88 177.12 L123.87 176.99 L124.86 176.86 L125.85 176.72 L126.83 176.56 L127.82 176.40 L128.81 176.22 L129.80 176.02 L130.79 175.81 L131.77 175.58 L132.76 175.33 L133.75 175.07 L134.74 174.79 L135.72 174.48 L136.71 174.15 L137.70 173.80 L138.69 173.43 L139.67 173.03 L140.66 172.60 L141.65 172.15 L142.64 171.68 L143.63 171.18 L144.61 170.65 L145.60 170.10 L146.59 169.54 L147.58 168.95 L148.56 168.34 L149.55 167.72 L150.54 167.09 L151.53 166.46 L152.51 165.82 L153.50 165.19 L154.49 164.57 L155.48 163.95 L156.47 163.36 L157.45 162.78 L158.44 162.23 L159.43 161.71 L160.42 161.22 L161.40 160.76 L162.39 160.33 L163.38 159.93 L164.37 159.56 L165.35 159.23 L166.34 158.92 L167.33 158.65 L168.32 158.40 L169.31 158.18 L170.29 157.98 L171.28 157.80 L172.27 157.64 L173.26 157.49 L174.24 157.36 L175.23 157.25 L176.22 157.14 L177.21 157.05 L178.19 156.96 L179.18 156.87 L180.17 156.79 L181.16 156.70 L182.15 156.62 L183.13 156.53 L184.12 156.43 L185.11 156.31 L186.10 156.19 L187.08 156.05 L188.07 155.88 L189.06 155.70 L190.05 155.48 L191.03 155.24 L192.02 154.97 L193.01 154.67 L194.00 154.33 L194.99 153.96 L195.97 153.56 L196.96 153.12 L197.95 152.66 L198.94 152.16 L199.92 151.64 L200.91 151.10 L201.90 150.54 L202.89 149.96 L203.87 149.37 L204.86 148.77 L205.85 148.18 L206.84 147.58 L207.83 146.98 L208.81 146.40 L209.80 145.82 L210.79 145.26 L211.78 144.71 L212.76 144.18 L213.75 143.67 L214.74 143.18 L215.73 142.71 L216.71 142.26 L217.70 141.83 L218.69 141.43 L219.68 141.05 L220.67 140.69 L221.65 140.35 L222.64 140.03 L223.63 139.73 L224.62 139.45 L225.60 139.19 L226.59 138.94 L227.58 138.72 L228.57 138.51 L229.55 138.31 L230.54 138.13 L231.53 137.96 L232.52 137.80 L233.51 137.66 L234.49 137.52 L235.48 137.40 L236.47 137.29 L237.46 137.18 L238.44 137.08 L239.43 136.99 L240.42 136.91 L241.41 136.84 L242.40 136.77 L243.38 136.70 L244.37 136.64 L245.36 136.59 L246.35 136.54 L247.33 136.49 L248.32 136.45 L249.31 136.41 L250.30 136.38 L251.28 136.34 L252.27 136.31 L253.26 136.29 L254.25 136.26 L255.24 136.24 L256.22 136.22 L257.21 136.20 L258.20 136.18 L259.19 136.16 L260.17 136.15 L261.16 136.13 L262.15 136.12 L263.14 136.11 L264.12 136.10 L265.11 136.09 L266.10 136.08 L267.09 136.07 L268.08 136.06 L269.06 136.06 L270.05 136.05 L271.04 136.04 L272.03 136.04 L273.01 136.03 L274.00 136.03 L274.99 136.03 L275.98 136.02 L276.96 136.02 L277.95 136.02 L278.94 136.01 L279.93 136.01 L280.92 136.01 L281.90 136.01 L282.89 136.00 L283.88 136.00 L284.87 136.00 L285.85 136.00 L286.84 136.00 L287.83 136.00 L288.82 135.99 L289.80 135.99 L290.79 135.99 L291.78 135.99 L292.77 135.99 L293.76 135.99 L294.74 135.99 L295.73 135.99 L296.72 135.99 L297.71 135.99 L298.69 135.99 L299.68 135.99 L300.67 135.99 L301.66 135.99 L302.64 135.98 L303.63 135.98 L304.62 135.98 L305.61 135.98 L306.60 135.98 L307.58 135.98 L308.57 135.98 L309.56 135.98 L310.55 135.98 L311.53 135.98 L312.52 135.98 L313.51 135.98 L314.50 135.98 L315.48 135.98 L316.47 135.98 L317.46 135.98 L318.45 135.98 L319.44 135.98 L320.42 135.98 L321.41 135.98 L322.40 135.98 L323.39 135.98 L324.37 135.98 L325.36 135.98 L326.35 135.98 L327.34 135.98 L328.32 135.98 L329.31 135.98 L330.30 135.98 L331.29 135.98 L332.28 135.98 L333.26 135.98 L334.25 135.98 L335.24 135.98 L336.23 135.98 L337.21 135.98 L338.20 135.98 L339.19 135.98 L340.18 135.98 L341.16 135.98 L342.15 135.98 L343.14 135.98 L344.13 135.98 L345.12 135.98 L346.10 135.98 L347.09 135.98 L348.08 135.98 L349.07 135.98 L350.05 135.98 L351.04 135.98 L352.03 135.98 L353.02 135.98 L354.00 135.98 L354.99 135.98 L355.98 135.98 L356.97 135.98 L357.96 135.98 L358.94 135.98 L359.93 135.98 L360.92 135.98 L361.91 135.98 L362.89 135.98 L363.88 135.98 L364.87 135.98 L365.86 135.98 L366.84 135.98 L367.83 135.98 L368.82 135.98 L369.81 135.98 L370.80 135.98 L371.78 135.98 L372.77 135.98 L373.76 135.98 L374.75 135.98 L375.73 135.98 L376.72 135.98 L377.71 135.98 L378.70 135.98 L379.68 135.98 L380.67 135.98 L381.66 135.98 L382.65 135.98 L383.64 135.98 L384.62 135.98 L385.61 135.98 L386.60 135.98 L387.59 135.98 L388.57 135.98 L389.56 135.98 L390.55 135.98 L391.54 135.98 L392.52 135.98 L393.51 135.98 L394.50 135.98 L395.49 135.98 L396.48 135.98 L397.46 135.98 L398.45 135.98 L399.44 135.98 L400.43 135.98 L401.41 135.98 L402.40 135.98 L403.39 135.98 L404.38 135.98 L405.36 135.98 L406.35 135.98 L407.34 135.98 L408.33 135.98 L409.32 135.98 L410.30 135.98 L411.29 135.98 L412.28 135.98 L413.27 135.98 L414.25 135.98 L415.24 135.98 L416.23 135.98 L417.22 135.98 L418.20 135.98 L419.19 135.98 L420.18 135.98 L421.17 135.98 L422.16 135.98 L423.14 135.98 L424.13 135.98 L425.12 135.98 L426.11 135.98 L427.09 135.98 L428.08 135.98 L429.07 135.98 L430.06 135.98 L431.05 135.98 L432.03 135.98 L433.02 135.98 L434.01 135.98 L435.00 135.98 L435.98 135.98 L436.97 135.98 L437.96 135.98 L438.95 135.98 L439.93 135.98 L440.92 135.98 L441.91 135.98 L442.90 135.98 L443.89 135.98 L444.87 135.98 L445.86 135.98 L446.85 135.98 L447.84 135.98 L448.82 135.98 L449.81 135.98 L450.80 135.98 L451.79 135.98 L452.77 135.98 L453.76 135.98 L454.75 135.98 L455.74 135.98 L456.73 135.98 L457.71 135.98 L458.70 135.98 L459.69 135.98 L460.68 135.98 L461.66 135.98 L462.65 135.98 L463.64 135.98 L464.63 135.98" fill="none" stroke="#ff0000" stroke-width="2.40" stroke-dasharray="5.6 5.435" stroke-dashoffset="-1.29"/>
</g>
<path d="M20.16 178.55 L21.15 178.55 L22.14 178.55 L23.13 178.55 L24.12 178.55 L25.11 178.55 L26.10 178.55 L27.09 178.55 L28.09 178.55 L29.08 178.55 L30.07 178.55 L31.06 178.55 L32.05 178.55 L33.04 178.55 L34.03 178.55 L35.02 178.55 L36.01 178.55 L37.00 178.55 L37.99 178.55 L38.98 178.55 L39.97 178.55 L40.96 178.55 L41.95 178.55 L42.94 178.55 L43.93 178.55 L44.92 178.55 L45.91 178.55 L46.90 178.55 L47.89 178.55 L48.88 178.55 L49.87 178.55 L50.86 178.55 L51.85 178.55 L52.84 178.55 L53.83 178.55 L54.82 178.55 L55.81 178.56 L56.80 178.56 L57.79 178.56 L58.78 178.56 L59.77 178.56 L60.76 178.56 L61.75 178.56 L62.74 178.56 L63.73 178.56 L64.72 178.56 L65.71 178.56 L66.70 178.56 L67.69 178.56 L68.68 178.57 L69.67 178.57 L70.66 178.57 L71.65 178.57 L72.64 178.57 L73.64 178.57 L74.63 178.58 L75.62 178.58 L76.61 178.58 L77.60 178.58 L78.59 178.59 L79.58 178.59 L80.57 178.59 L81.56 178.60 L82.55 178.60 L83.54 178.60 L84.53 178.61 L85.52 178.61 L86.51 178.62 L87.50 178.62 L88.49 178.63 L89.48 178.64 L90.47 178.65 L91.46 178.65 L92.45 178.66 L93.44 178.67 L94.43 178.68 L95.42 178.70 L96.41 178.71 L97.40 178.72 L98.39 178.74 L99.38 178.75 L100.37 178.77 L101.36 178.79 L102.35 178.81 L103.34 178.83 L104.33 178.86 L105.32 178.88 L106.31 178.91 L107.30 178.94 L108.29 178.98 L109.28 179.01 L110.27 179.05 L111.26 179.10 L112.25 179.14 L113.24 179.19 L114.23 179.25 L115.22 179.31 L116.21 179.37 L117.20 179.44 L118.19 179.52 L119.19 179.60 L120.18 179.69 L121.17 179.79 L122.16 179.90 L123.15 180.01 L124.14 180.14 L125.13 180.27 L126.12 180.42 L127.11 180.58 L128.10 180.75 L129.09 180.94 L130.08 181.14 L131.07 181.35 L132.06 181.59 L133.05 181.84 L134.04 182.11 L135.03 182.40 L136.02 182.72 L137.01 183.05 L138.00 183.41 L138.99 183.79 L139.98 184.20 L140.97 184.63 L141.96 185.09 L142.95 185.58 L143.94 186.09 L144.93 186.62 L145.92 187.18 L146.91 187.76 L147.90 188.35 L148.89 188.96 L149.88 189.59 L150.87 190.22 L151.86 190.86 L152.85 191.49 L153.84 192.13 L154.83 192.75 L155.82 193.36 L156.81 193.95 L157.80 194.51 L158.79 195.06 L159.78 195.57 L160.77 196.05 L161.76 196.50 L162.75 196.92 L163.74 197.31 L164.74 197.67 L165.73 197.99 L166.72 198.28 L167.71 198.55 L168.70 198.79 L169.69 199.00 L170.68 199.20 L171.67 199.37 L172.66 199.52 L173.65 199.66 L174.64 199.78 L175.63 199.90 L176.62 200.00 L177.61 200.09 L178.60 200.18 L179.59 200.26 L180.58 200.35 L181.57 200.43 L182.56 200.52 L183.55 200.62 L184.54 200.72 L185.53 200.84 L186.52 200.97 L187.51 201.12 L188.50 201.29 L189.49 201.49 L190.48 201.72 L191.47 201.97 L192.46 202.26 L193.45 202.58 L194.44 202.93 L195.43 203.32 L196.42 203.74 L197.41 204.19 L198.40 204.67 L199.39 205.18 L200.38 205.71 L201.37 206.26 L202.36 206.83 L203.35 207.42 L204.34 208.01 L205.33 208.61 L206.32 209.21 L207.31 209.81 L208.30 210.40 L209.29 210.99 L210.29 211.56 L211.28 212.11 L212.27 212.66 L213.26 213.18 L214.25 213.68 L215.24 214.16 L216.23 214.62 L217.22 215.06 L218.21 215.48 L219.20 215.87 L220.19 216.24 L221.18 216.59 L222.17 216.92 L223.16 217.23 L224.15 217.52 L225.14 217.79 L226.13 218.04 L227.12 218.28 L228.11 218.50 L229.10 218.70 L230.09 218.89 L231.08 219.07 L232.07 219.23 L233.06 219.38 L234.05 219.52 L235.04 219.65 L236.03 219.76 L237.02 219.87 L238.01 219.97 L239.00 220.07 L239.99 220.15 L240.98 220.23 L241.97 220.30 L242.96 220.37 L243.95 220.43 L244.94 220.49 L245.93 220.54 L246.92 220.59 L247.91 220.63 L248.90 220.67 L249.89 220.71 L250.88 220.74 L251.87 220.77 L252.86 220.80 L253.85 220.83 L254.84 220.85 L255.84 220.88 L256.83 220.90 L257.82 220.91 L258.81 220.93 L259.80 220.95 L260.79 220.96 L261.78 220.97 L262.77 220.99 L263.76 221.00 L264.75 221.01 L265.74 221.02 L266.73 221.03 L267.72 221.03 L268.71 221.04 L269.70 221.05 L270.69 221.05 L271.68 221.06 L272.67 221.06 L273.66 221.07 L274.65 221.07 L275.64 221.08 L276.63 221.08 L277.62 221.08 L278.61 221.09 L279.60 221.09 L280.59 221.09 L281.58 221.09 L282.57 221.10 L283.56 221.10 L284.55 221.10 L285.54 221.10 L286.53 221.10 L287.52 221.10 L288.51 221.11 L289.50 221.11 L290.49 221.11 L291.48 221.11 L292.47 221.11 L293.46 221.11 L294.45 221.11 L295.44 221.11 L296.43 221.11 L297.42 221.11 L298.41 221.11 L299.40 221.11 L300.39 221.11 L301.39 221.11 L302.38 221.12 L303.37 221.12 L304.36 221.12 L305.35 221.12 L306.34 221.12 L307.33 221.12 L308.32 221.12 L309.31 221.12 L310.30 221.12 L311.29 221.12 L312.28 221.12 L313.27 221.12 L314.26 221.12 L315.25 221.12 L316.24 221.12 L317.23 221.12 L318.22 221.12 L319.21 221.12 L320.20 221.12 L321.19 221.12 L322.18 221.12 L323.17 221.12 L324.16 221.12 L325.15 221.12 L326.14 221.12 L327.13 221.12 L328.12 221.12 L329.11 221.12 L330.10 221.12 L331.09 221.12 L332.08 221.12 L333.07 221.12 L334.06 221.12 L335.05 221.12 L336.04 221.12 L337.03 221.12 L338.02 221.12 L339.01 221.12 L340.00 221.12 L340.99 221.12 L341.98 221.12 L342.97 221.12 L343.96 221.12 L344.95 221.12 L345.94 221.12 L346.94 221.12 L347.93 221.12 L348.92 221.12 L349.91 221.12 L350.90 221.12 L351.89 221.12 L352.88 221.12 L353.87 221.12 L354.86 221.12 L355.85 221.12 L356.84 221.12 L357.83 221.12 L358.82 221.12 L359.81 221.12 L360.80 221.12 L361.79 221.12 L362.78 221.12 L363.77 221.12 L364.76 221.12 L365.75 221.12 L366.74 221.12 L367.73 221.12 L368.72 221.12 L369.71 221.12 L370.70 221.12 L371.69 221.12 L372.68 221.12 L373.67 221.12 L374.66 221.12 L375.65 221.12 L376.64 221.12 L377.63 221.12 L378.62 221.12 L379.61 221.12 L380.60 221.12 L381.59 221.12 L382.58 221.12 L383.57 221.12 L384.56 221.12 L385.55 221.12 L386.54 221.12 L387.53 221.12 L388.52 221.12 L389.51 221.12 L390.50 221.12 L391.49 221.12 L392.49 221.12 L393.48 221.12 L394.47 221.12 L395.46 221.12 L396.45 221.12 L397.44 221.12 L398.43 221.12 L399.42 221.12 L400.41 221.12 L401.40 221.12 L402.39 221.12 L403.38 221.12 L404.37 221.12 L405.36 221.12 L406.35 221.12 L407.34 221.12 L408.33 221.12 L409.32 221.12 L410.31 221.12 L411.30 221.12 L412.29 221.12 L413.28 221.12 L414.27 221.12 L415.26 221.12 L416.25 221.12 L417.24 221.12 L418.23 221.12 L419.22 221.12 L420.21 221.12 L421.20 221.12 L422.19 221.12 L423.18 221.12 L424.17 221.12 L425.16 221.12 L426.15 221.12 L427.14 221.12 L428.13 221.12 L429.12 221.12 L430.11 221.12 L431.10 221.12 L432.09 221.12 L433.08 221.12 L434.07 221.12 L435.06 221.12 L436.05 221.12 L437.04 221.12 L438.04 221.12 L439.03 221.12 L440.02 221.12 L441.01 221.12 L442.00 221.12 L442.99 221.12 L443.98 221.12 L444.97 221.12 L445.96 221.12 L446.95 221.12 L447.94 221.12 L448.93 221.12 L449.92 221.12 L450.91 221.12 L451.90 221.12 L452.89 221.12 L453.88 221.12 L454.87 221.12 L455.86 221.12 L456.85 221.12 L457.84 221.12 L458.83 221.12 L459.82 221.12 L460.81 221.12 L461.80 221.12 L462.79 221.12 L463.78 221.12 L464.77 221.12 L465.76 221.12" fill="none" stroke="#ff0000" stroke-width="2.40" stroke-linejoin="round"/>
<g stroke="#7a7a7a" stroke-opacity="0.78" fill="none">
<line x1="21.15" y1="42" x2="21.15" y2="315.3" stroke-width="1.2"/>
<line x1="21.15" y1="178.55" x2="461" y2="178.55" stroke-width="1" stroke="#555" stroke-opacity="0.3"/>
<line x1="45.81" y1="178.55" x2="45.81" y2="175.25" stroke-width="0.7"/>
<line x1="70.48" y1="178.55" x2="70.48" y2="175.25" stroke-width="0.7"/>
<line x1="95.15" y1="178.55" x2="95.15" y2="175.25" stroke-width="0.7"/>
<line x1="119.81" y1="178.55" x2="119.81" y2="173.55" stroke-width="0.8"/>
<line x1="144.47" y1="178.55" x2="144.47" y2="175.25" stroke-width="0.7"/>
<line x1="169.14" y1="178.55" x2="169.14" y2="175.25" stroke-width="0.7"/>
<line x1="193.81" y1="178.55" x2="193.81" y2="175.25" stroke-width="0.7"/>
<line x1="218.47" y1="178.55" x2="218.47" y2="173.55" stroke-width="0.8"/>
<line x1="243.13" y1="178.55" x2="243.13" y2="175.25" stroke-width="0.7"/>
<line x1="267.80" y1="178.55" x2="267.80" y2="175.25" stroke-width="0.7"/>
<line x1="292.46" y1="178.55" x2="292.46" y2="175.25" stroke-width="0.7"/>
<line x1="317.13" y1="178.55" x2="317.13" y2="173.55" stroke-width="0.8"/>
<line x1="341.79" y1="178.55" x2="341.79" y2="175.25" stroke-width="0.7"/>
<line x1="366.46" y1="178.55" x2="366.46" y2="175.25" stroke-width="0.7"/>
<line x1="391.12" y1="178.55" x2="391.12" y2="175.25" stroke-width="0.7"/>
<line x1="415.79" y1="178.55" x2="415.79" y2="173.55" stroke-width="0.8"/>
<line x1="440.45" y1="178.55" x2="440.45" y2="175.25" stroke-width="0.7"/>
<line x1="21.15" y1="312.97" x2="24.15" y2="312.97" stroke-width="0.7"/>
<line x1="21.15" y1="300.75" x2="26.15" y2="300.75" stroke-width="0.8"/>
<line x1="21.15" y1="288.53" x2="24.15" y2="288.53" stroke-width="0.7"/>
<line x1="21.15" y1="276.31" x2="24.15" y2="276.31" stroke-width="0.7"/>
<line x1="21.15" y1="264.09" x2="24.15" y2="264.09" stroke-width="0.7"/>
<line x1="21.15" y1="251.87" x2="24.15" y2="251.87" stroke-width="0.7"/>
<line x1="21.15" y1="239.65" x2="26.15" y2="239.65" stroke-width="0.8"/>
<line x1="21.15" y1="227.43" x2="24.15" y2="227.43" stroke-width="0.7"/>
<line x1="21.15" y1="215.21" x2="24.15" y2="215.21" stroke-width="0.7"/>
<line x1="21.15" y1="202.99" x2="24.15" y2="202.99" stroke-width="0.7"/>
<line x1="21.15" y1="190.77" x2="24.15" y2="190.77" stroke-width="0.7"/>
<line x1="21.15" y1="166.33" x2="24.15" y2="166.33" stroke-width="0.7"/>
<line x1="21.15" y1="154.11" x2="24.15" y2="154.11" stroke-width="0.7"/>
<line x1="21.15" y1="141.89" x2="24.15" y2="141.89" stroke-width="0.7"/>
<line x1="21.15" y1="129.67" x2="24.15" y2="129.67" stroke-width="0.7"/>
<line x1="21.15" y1="117.45" x2="26.15" y2="117.45" stroke-width="0.8"/>
<line x1="21.15" y1="105.23" x2="24.15" y2="105.23" stroke-width="0.7"/>
<line x1="21.15" y1="93.01" x2="24.15" y2="93.01" stroke-width="0.7"/>
<line x1="21.15" y1="80.79" x2="24.15" y2="80.79" stroke-width="0.7"/>
<line x1="21.15" y1="68.57" x2="24.15" y2="68.57" stroke-width="0.7"/>
<line x1="21.15" y1="56.35" x2="26.15" y2="56.35" stroke-width="0.8"/>
</g>
<path d="M474.5 178.75 L460 174.75 L461.5 178.75 L460 182.75 Z" fill="#646464"/>
<path d="M21.15 29.3 L17.15 43.9 L21.15 42.5 L25.15 43.9 Z" fill="#646464"/>
<text x="119.51" y="194.6" font-size="14.4" text-anchor="middle" font-family="Liberation Sans, sans-serif" fill="#000">20</text>
<text x="218.17" y="194.6" font-size="14.4" text-anchor="middle" font-family="Liberation Sans, sans-serif" fill="#000">40</text>
<text x="316.83" y="194.6" font-size="14.4" text-anchor="middle" font-family="Liberation Sans, sans-serif" fill="#000">60</text>
<text x="415.49" y="194.6" font-size="14.4" text-anchor="middle" font-family="Liberation Sans, sans-serif" fill="#000">80</text>
<text x="17.4" y="60.95" font-size="14.4" text-anchor="end" font-family="Liberation Sans, sans-serif" fill="#000">2</text>
<text x="17.4" y="122.05" font-size="14.4" text-anchor="end" font-family="Liberation Sans, sans-serif" fill="#000">1</text>
<text x="17.4" y="244.85" font-size="14.4" text-anchor="end" font-family="Liberation Sans, sans-serif" fill="#000">1</text>
<text x="0.5" y="245.30" font-size="13" text-anchor="start" font-family="Liberation Sans, sans-serif" fill="#000">−</text>
<text x="17.4" y="305.95" font-size="14.4" text-anchor="end" font-family="Liberation Sans, sans-serif" fill="#000">2</text>
<text x="0.5" y="306.40" font-size="13" text-anchor="start" font-family="Liberation Sans, sans-serif" fill="#000">−</text>
<rect x="9.5" y="121" width="3.45" height="1.2" fill="#fff"/><rect x="14.45" y="121" width="3.2" height="1.2" fill="#fff"/>
<rect x="9.5" y="244" width="3.45" height="1.2" fill="#fff"/><rect x="14.45" y="244" width="3.2" height="1.2" fill="#fff"/>
<text x="20.95" y="17.5" font-size="19.8" text-anchor="middle" font-family="Liberation Sans, sans-serif" fill="#000">Z</text>
<text x="491.1" y="185.6" font-size="19.8" text-anchor="middle" font-family="Liberation Sans, sans-serif" fill="#000">T</text>
</svg></body></html>
